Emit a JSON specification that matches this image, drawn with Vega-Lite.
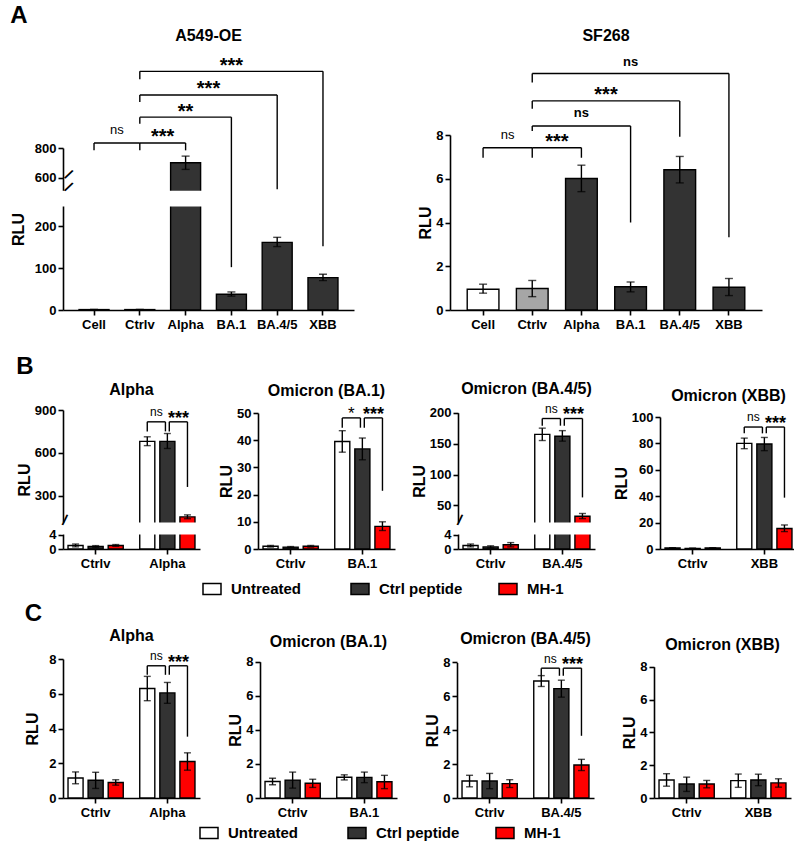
{
"$schema": "https://vega.github.io/schema/vega-lite/v6.json",
"background": "white",
"padding": {"left": 10, "right": 2, "top": 3, "bottom": 2},
"config": {
 "font": "Liberation Sans",
 "view": {"stroke": null},
 "axis": {"labelFontSize": 13, "labelFontWeight": "bold", "labelColor": "black", "titleFontSize": 16, "titleFontWeight": "bold", "titleColor": "black", "domainColor": "black", "domainWidth": 1.6, "tickColor": "black", "tickWidth": 1.6, "tickSize": 5, "grid": false, "labelPadding": 2, "labelOverlap": false, "labelFlush": false},
 "axisX": {"labelAngle": 0, "labelPadding": 3},
 "axisY": {"titlePadding": 2, "tickCount": 12},
 "title": {"fontSize": 16, "fontWeight": "bold", "color": "black", "offset": 6, "frame": "group"},
 "bar": {"stroke": "black", "strokeWidth": 1.4},
 "rule": {"color": "black", "strokeWidth": 1.4},
 "tick": {"color": "black", "thickness": 1.4},
 "text": {"color": "black"}
},
"datasets": {
 "bA": [
  {"p":"A1","c":"Cell","m":1,"lo":0.5,"hi":1.5},
  {"p":"A1","c":"Ctrlv","m":1,"lo":0.5,"hi":1.5},
  {"p":"A1","c":"Alpha","m":700,"lo":655,"hi":745},
  {"p":"A1","c":"BA.1","m":37.5,"lo":33,"hi":43},
  {"p":"A1","c":"BA.4/5","m":161,"lo":151,"hi":173},
  {"p":"A1","c":"XBB","m":77,"lo":70,"hi":85},
  {"p":"A2","c":"Cell","m":0.95,"lo":0.77,"hi":1.18},
  {"p":"A2","c":"Ctrlv","m":0.98,"lo":0.61,"hi":1.35},
  {"p":"A2","c":"Alpha","m":6.01,"lo":5.41,"hi":6.62},
  {"p":"A2","c":"BA.1","m":1.06,"lo":0.83,"hi":1.28},
  {"p":"A2","c":"BA.4/5","m":6.41,"lo":5.81,"hi":7.02},
  {"p":"A2","c":"XBB","m":1.04,"lo":0.66,"hi":1.44}
 ],
 "hA": [
  {"p":"A1","a":"Cell","b":"Ctrlv","y":834},
  {"p":"A1","a":"Ctrlv","b":"Alpha","y":834},
  {"p":"A1","a":"Ctrlv","b":"BA.1","y":1009},
  {"p":"A1","a":"Ctrlv","b":"BA.4/5","y":1159},
  {"p":"A1","a":"Ctrlv","b":"XBB","y":1319},
  {"p":"A2","a":"Cell","b":"Ctrlv","y":7.42},
  {"p":"A2","a":"Ctrlv","b":"Alpha","y":7.42},
  {"p":"A2","a":"Ctrlv","b":"BA.1","y":8.41},
  {"p":"A2","a":"Ctrlv","b":"BA.4/5","y":9.56},
  {"p":"A2","a":"Ctrlv","b":"XBB","y":10.81}
 ],
 "vA": [
  {"p":"A1","x":"Cell","y":784,"y2":834},
  {"p":"A1","x":"Ctrlv","y":784,"y2":834},
  {"p":"A1","x":"Alpha","y":784,"y2":834},
  {"p":"A1","x":"Ctrlv","y":965,"y2":1009},
  {"p":"A1","x":"BA.1","y":102,"y2":1009},
  {"p":"A1","x":"Ctrlv","y":1112,"y2":1159},
  {"p":"A1","x":"BA.4/5","y":520,"y2":1159},
  {"p":"A1","x":"Ctrlv","y":1265,"y2":1319},
  {"p":"A1","x":"XBB","y":152,"y2":1319},
  {"p":"A2","x":"Cell","y":6.96,"y2":7.42},
  {"p":"A2","x":"Ctrlv","y":6.96,"y2":7.42},
  {"p":"A2","x":"Alpha","y":6.96,"y2":7.42},
  {"p":"A2","x":"Ctrlv","y":8.18,"y2":8.41},
  {"p":"A2","x":"BA.1","y":4.0,"y2":8.41},
  {"p":"A2","x":"Ctrlv","y":9.2,"y2":9.56},
  {"p":"A2","x":"BA.4/5","y":7.92,"y2":9.56},
  {"p":"A2","x":"Ctrlv","y":10.4,"y2":10.81},
  {"p":"A2","x":"XBB","y":3.33,"y2":10.81}
 ],
 "tA": [
  {"p":"A1","x":"Cell","h":true,"y":892,"s":"ns"},
  {"p":"A1","x":"Ctrlv","h":true,"y":835,"s":"***"},
  {"p":"A1","x":"Alpha","h":false,"y":1000,"s":"**"},
  {"p":"A1","x":"Alpha","h":true,"y":1158,"s":"***"},
  {"p":"A1","x":"BA.1","h":false,"y":1315,"s":"***"},
  {"p":"A2","x":"Cell","h":true,"y":7.82,"s":"ns"},
  {"p":"A2","x":"Ctrlv","h":true,"y":7.42,"s":"***"},
  {"p":"A2","x":"Alpha","h":false,"y":8.82,"s":"ns"},
  {"p":"A2","x":"Alpha","h":true,"y":9.56,"s":"***"},
  {"p":"A2","x":"BA.1","h":false,"y":11.16,"s":"ns"}
 ],
 "bB": [
  {"p":"B1","g":"Ctrlv","t":"Untreated","m":1.0,"lo":0.6,"hi":1.4},
  {"p":"B1","g":"Ctrlv","t":"Ctrl peptide","m":0.7,"lo":0.45,"hi":0.95},
  {"p":"B1","g":"Ctrlv","t":"MH-1","m":1.0,"lo":0.75,"hi":1.25},
  {"p":"B1","g":"Alpha","t":"Untreated","m":680,"lo":650,"hi":712},
  {"p":"B1","g":"Alpha","t":"Ctrl peptide","m":680,"lo":630,"hi":735},
  {"p":"B1","g":"Alpha","t":"MH-1","m":150,"lo":137,"hi":164},
  {"p":"B2","g":"Ctrlv","t":"Untreated","m":1.0,"lo":0.7,"hi":1.3},
  {"p":"B2","g":"Ctrlv","t":"Ctrl peptide","m":0.7,"lo":0.5,"hi":0.9},
  {"p":"B2","g":"Ctrlv","t":"MH-1","m":1.0,"lo":0.7,"hi":1.3},
  {"p":"B2","g":"BA.1","t":"Untreated","m":39.5,"lo":35.6,"hi":43.5},
  {"p":"B2","g":"BA.1","t":"Ctrl peptide","m":36.8,"lo":32.8,"hi":40.8},
  {"p":"B2","g":"BA.1","t":"MH-1","m":8.3,"lo":6.8,"hi":10.0},
  {"p":"B3","g":"Ctrlv","t":"Untreated","m":1.0,"lo":0.6,"hi":1.4},
  {"p":"B3","g":"Ctrlv","t":"Ctrl peptide","m":0.6,"lo":0.3,"hi":0.9},
  {"p":"B3","g":"Ctrlv","t":"MH-1","m":1.2,"lo":0.6,"hi":1.8},
  {"p":"B3","g":"BA.4/5","t":"Untreated","m":165,"lo":155,"hi":175},
  {"p":"B3","g":"BA.4/5","t":"Ctrl peptide","m":162,"lo":154,"hi":171},
  {"p":"B3","g":"BA.4/5","t":"MH-1","m":32.5,"lo":28.7,"hi":37},
  {"p":"B4","g":"Ctrlv","t":"Untreated","m":0.8,"lo":0.6,"hi":1.0},
  {"p":"B4","g":"Ctrlv","t":"Ctrl peptide","m":0.5,"lo":0.3,"hi":0.7},
  {"p":"B4","g":"Ctrlv","t":"MH-1","m":0.8,"lo":0.6,"hi":1.0},
  {"p":"B4","g":"XBB","t":"Untreated","m":80,"lo":76,"hi":84},
  {"p":"B4","g":"XBB","t":"Ctrl peptide","m":79.5,"lo":74.5,"hi":84.5},
  {"p":"B4","g":"XBB","t":"MH-1","m":15.5,"lo":13.2,"hi":18.2}
 ],
 "bC": [
  {"p":"C1","g":"Ctrlv","t":"Untreated","m":1.15,"lo":0.82,"hi":1.5},
  {"p":"C1","g":"Ctrlv","t":"Ctrl peptide","m":1.02,"lo":0.55,"hi":1.48},
  {"p":"C1","g":"Ctrlv","t":"MH-1","m":0.89,"lo":0.74,"hi":1.05},
  {"p":"C1","g":"Alpha","t":"Untreated","m":6.3,"lo":5.6,"hi":7.0},
  {"p":"C1","g":"Alpha","t":"Ctrl peptide","m":6.05,"lo":5.45,"hi":6.65},
  {"p":"C1","g":"Alpha","t":"MH-1","m":2.1,"lo":1.6,"hi":2.6},
  {"p":"C2","g":"Ctrlv","t":"Untreated","m":0.97,"lo":0.78,"hi":1.16},
  {"p":"C2","g":"Ctrlv","t":"Ctrl peptide","m":1.05,"lo":0.58,"hi":1.52},
  {"p":"C2","g":"Ctrlv","t":"MH-1","m":0.87,"lo":0.62,"hi":1.1},
  {"p":"C2","g":"BA.1","t":"Untreated","m":1.22,"lo":1.06,"hi":1.36},
  {"p":"C2","g":"BA.1","t":"Ctrl peptide","m":1.21,"lo":0.9,"hi":1.52},
  {"p":"C2","g":"BA.1","t":"MH-1","m":0.95,"lo":0.55,"hi":1.33},
  {"p":"C3","g":"Ctrlv","t":"Untreated","m":1.0,"lo":0.66,"hi":1.34},
  {"p":"C3","g":"Ctrlv","t":"Ctrl peptide","m":1.0,"lo":0.55,"hi":1.45},
  {"p":"C3","g":"Ctrlv","t":"MH-1","m":0.85,"lo":0.62,"hi":1.08},
  {"p":"C3","g":"BA.4/5","t":"Untreated","m":6.9,"lo":6.58,"hi":7.22},
  {"p":"C3","g":"BA.4/5","t":"Ctrl peptide","m":6.45,"lo":5.95,"hi":6.95},
  {"p":"C3","g":"BA.4/5","t":"MH-1","m":1.95,"lo":1.62,"hi":2.28},
  {"p":"C4","g":"Ctrlv","t":"Untreated","m":1.1,"lo":0.72,"hi":1.48},
  {"p":"C4","g":"Ctrlv","t":"Ctrl peptide","m":0.85,"lo":0.4,"hi":1.27},
  {"p":"C4","g":"Ctrlv","t":"MH-1","m":0.85,"lo":0.62,"hi":1.07},
  {"p":"C4","g":"XBB","t":"Untreated","m":1.06,"lo":0.65,"hi":1.46},
  {"p":"C4","g":"XBB","t":"Ctrl peptide","m":1.1,"lo":0.75,"hi":1.45},
  {"p":"C4","g":"XBB","t":"MH-1","m":0.92,"lo":0.66,"hi":1.17}
 ],
 "kBC": [
  {"p":"B1","g":"Alpha","ly":817,"yU":750,"yC":750,"yM":360,"l1":"ns","b1":856,"l2":"***","b2":805},
  {"p":"B2","g":"BA.1","ly":48.2,"yU":44.6,"yC":44.6,"yM":21.4,"l1":"*","b1":47.9,"l2":"***","b2":47.6},
  {"p":"B3","g":"BA.4/5","ly":190.6,"yU":179,"yC":179,"yM":63,"l1":"ns","b1":200,"l2":"***","b2":188.4},
  {"p":"B4","g":"XBB","ly":92.4,"yU":87.6,"yC":87.6,"yM":38.9,"l1":"ns","b1":96.7,"l2":"***","b2":91.1},
  {"p":"C1","g":"Alpha","ly":7.61,"yU":7.09,"yC":7.09,"yM":3.53,"l1":"ns","b1":7.93,"l2":"***","b2":7.51},
  {"p":"C3","g":"BA.4/5","ly":7.66,"yU":7.21,"yC":7.21,"yM":3.67,"l1":"ns","b1":7.97,"l2":"***","b2":7.54}
 ],
 "leg": [{"t":"Untreated"},{"t":"Ctrl peptide"},{"t":"MH-1"}]
},
"spacing": 23,
"vconcat": [
 {"title": {"text": "A", "anchor": "start", "fontSize": 24, "offset": 0, "frame": "bounds"},
  "spacing": 61,
  "hconcat": [
   {"title": {"text": "A549-OE", "offset": 12},
    "width": 291, "height": 175,
    "data": {"name": "bA"}, "transform": [{"filter": "datum.p=='A1'"}],
    "layer": [
     {"mark": "bar", "encoding": {
       "x": {"field": "c", "type": "nominal", "title": null, "scale": {"domain": ["Cell","Ctrlv","Alpha","BA.1","BA.4/5","XBB"], "paddingInner": 0.345, "paddingOuter": 0.35}},
       "y": {"field": "m", "type": "quantitative", "scale": {"domain": [0,250,500,800], "range": [175,70,57.3,13], "zero": false, "nice": false}, "axis": {"title": "RLU", "values": [0,100,200,600,800], "format": "d", "tickCount": 12, "titlePadding": 8}},
       "fill": {"field": "c", "type": "nominal", "scale": {"domain": ["Cell","Ctrlv","Alpha","BA.1","BA.4/5","XBB"], "range": ["white","#a6a6a6","#333333","#333333","#333333","#333333"]}, "legend": null}}},
     {"mark": "rule", "encoding": {"x": {"field": "c", "type": "nominal", "title": null}, "y": {"field": "lo", "type": "quantitative"}, "y2": {"field": "hi"}}},
     {"mark": {"type": "tick", "size": 8}, "encoding": {"x": {"field": "c", "type": "nominal", "title": null}, "y": {"field": "lo", "type": "quantitative"}}},
     {"mark": {"type": "tick", "size": 8}, "encoding": {"x": {"field": "c", "type": "nominal", "title": null}, "y": {"field": "hi", "type": "quantitative"}}},
     {"data": {"values": [{}]}, "mark": {"type": "rect", "fill": "white", "stroke": "white", "strokeWidth": 3}, "encoding": {"y": {"datum": 250, "type": "quantitative"}, "y2": {"datum": 500}}},
     {"data": {"values": [{"v": 250}, {"v": 500}]}, "mark": {"type": "text", "text": "/", "fontSize": 15, "fontWeight": "bold", "angle": 35, "dx": -31, "baseline": "middle"}, "encoding": {"x": {"datum": "Cell", "type": "nominal", "title": null}, "y": {"field": "v", "type": "quantitative"}}},
     {"data": {"name": "hA"}, "transform": [{"filter": "datum.p=='A1'"}], "mark": "rule", "encoding": {"x": {"field": "a", "type": "nominal", "title": null, "bandPosition": 0.5}, "x2": {"field": "b", "bandPosition": 0.5}, "y": {"field": "y", "type": "quantitative"}}},
     {"data": {"name": "vA"}, "transform": [{"filter": "datum.p=='A1'"}], "mark": "rule", "encoding": {"x": {"field": "x", "type": "nominal", "title": null}, "y": {"field": "y", "type": "quantitative"}, "y2": {"field": "y2"}}},
     {"data": {"name": "tA"}, "transform": [{"filter": "datum.p=='A1'"}], "layer": [
       {"transform": [{"filter": "datum.h && datum.x=='Cell'"}], "mark": {"type": "text", "fontSize": 13, "baseline": "alphabetic"}, "encoding": {"x": {"field": "x", "type": "nominal", "title": null, "bandPosition": 1.263}, "y": {"field": "y", "type": "quantitative"}, "text": {"field": "s"}}},
       {"transform": [{"filter": "datum.h && datum.x!='Cell'"}], "mark": {"type": "text", "fontWeight": "bold", "baseline": "alphabetic"}, "encoding": {"x": {"field": "x", "type": "nominal", "title": null, "bandPosition": 1.263}, "y": {"field": "y", "type": "quantitative"}, "text": {"field": "s"}, "size": {"condition": {"test": "indexof(datum.s,'*')>=0", "value": 20}, "value": 13}}},
       {"transform": [{"filter": "!datum.h"}], "mark": {"type": "text", "fontWeight": "bold", "baseline": "alphabetic"}, "encoding": {"x": {"field": "x", "type": "nominal", "title": null, "bandPosition": 0.5}, "y": {"field": "y", "type": "quantitative"}, "text": {"field": "s"}, "size": {"condition": {"test": "indexof(datum.s,'*')>=0", "value": 20}, "value": 13}}}
     ]}
    ]},
   {"title": {"text": "SF268", "offset": 12},
    "width": 312, "height": 175,
    "data": {"name": "bA"}, "transform": [{"filter": "datum.p=='A2'"}],
    "layer": [
     {"mark": "bar", "encoding": {
       "x": {"field": "c", "type": "nominal", "title": null, "scale": {"domain": ["Cell","Ctrlv","Alpha","BA.1","BA.4/5","XBB"], "paddingInner": 0.355, "paddingOuter": 0.35}},
       "y": {"field": "m", "type": "quantitative", "scale": {"domain": [0,8], "zero": false, "nice": false}, "axis": {"title": "RLU", "values": [0,2,4,6,8], "format": "d", "tickCount": 12}},
       "fill": {"field": "c", "type": "nominal", "scale": {"domain": ["Cell","Ctrlv","Alpha","BA.1","BA.4/5","XBB"], "range": ["white","#a6a6a6","#333333","#333333","#333333","#333333"]}, "legend": null}}},
     {"mark": "rule", "encoding": {"x": {"field": "c", "type": "nominal", "title": null}, "y": {"field": "lo", "type": "quantitative"}, "y2": {"field": "hi"}}},
     {"mark": {"type": "tick", "size": 8}, "encoding": {"x": {"field": "c", "type": "nominal", "title": null}, "y": {"field": "lo", "type": "quantitative"}}},
     {"mark": {"type": "tick", "size": 8}, "encoding": {"x": {"field": "c", "type": "nominal", "title": null}, "y": {"field": "hi", "type": "quantitative"}}},
     {"data": {"name": "hA"}, "transform": [{"filter": "datum.p=='A2'"}], "mark": "rule", "encoding": {"x": {"field": "a", "type": "nominal", "title": null, "bandPosition": 0.5}, "x2": {"field": "b", "bandPosition": 0.5}, "y": {"field": "y", "type": "quantitative"}}},
     {"data": {"name": "vA"}, "transform": [{"filter": "datum.p=='A2'"}], "mark": "rule", "encoding": {"x": {"field": "x", "type": "nominal", "title": null}, "y": {"field": "y", "type": "quantitative"}, "y2": {"field": "y2"}}},
     {"data": {"name": "tA"}, "transform": [{"filter": "datum.p=='A2'"}], "layer": [
       {"transform": [{"filter": "datum.h && datum.x=='Cell'"}], "mark": {"type": "text", "fontSize": 13, "baseline": "alphabetic"}, "encoding": {"x": {"field": "x", "type": "nominal", "title": null, "bandPosition": 1.275}, "y": {"field": "y", "type": "quantitative"}, "text": {"field": "s"}}},
       {"transform": [{"filter": "datum.h && datum.x!='Cell'"}], "mark": {"type": "text", "fontWeight": "bold", "baseline": "alphabetic"}, "encoding": {"x": {"field": "x", "type": "nominal", "title": null, "bandPosition": 1.275}, "y": {"field": "y", "type": "quantitative"}, "text": {"field": "s"}, "size": {"condition": {"test": "indexof(datum.s,'*')>=0", "value": 20}, "value": 13}}},
       {"transform": [{"filter": "!datum.h"}], "mark": {"type": "text", "fontWeight": "bold", "baseline": "alphabetic"}, "encoding": {"x": {"field": "x", "type": "nominal", "title": null, "bandPosition": 0.5}, "y": {"field": "y", "type": "quantitative"}, "text": {"field": "s"}, "size": {"condition": {"test": "indexof(datum.s,'*')>=0", "value": 20}, "value": 13}}}
     ]}
    ]}
  ]},
 {"spacing": 4, "vconcat": [
  {"spacing": 10, "center": true, "vconcat": [
   {"title": {"text": "B", "anchor": "start", "fontSize": 24, "offset": 2, "frame": "bounds"},
    "spacing": 16,
    "hconcat": [
     {"title": "Alpha", "width": 137, "height": 139,
      "data": {"name": "bB"}, "transform": [{"filter": "datum.p=='B1'"}],
      "layer": [
       {"mark": "bar", "encoding": {
         "x": {"field": "g", "type": "nominal", "title": null, "scale": {"domain": ["Ctrlv","Alpha"], "paddingInner": 0.23, "paddingOuter": 0.07}},
         "xOffset": {"field": "t", "type": "nominal", "scale": {"domain": ["Untreated","Ctrl peptide","MH-1"], "paddingInner": 0.25, "paddingOuter": 0}},
         "y": {"field": "m", "type": "quantitative", "scale": {"domain": [0,4.5,100,900], "range": [139,123,114,0], "zero": false, "nice": false}, "axis": {"title": "RLU", "values": [0,4,300,600,900], "format": "d", "tickCount": 12}},
         "color": {"field": "t", "type": "nominal", "scale": {"domain": ["Untreated","Ctrl peptide","MH-1"], "range": ["white","#333333","#ff0000"]}, "legend": null}}},
       {"mark": "rule", "encoding": {"x": {"field": "g", "type": "nominal", "title": null}, "xOffset": {"field": "t", "type": "nominal"}, "y": {"field": "lo", "type": "quantitative"}, "y2": {"field": "hi"}}},
       {"mark": {"type": "tick", "size": 7}, "encoding": {"x": {"field": "g", "type": "nominal", "title": null}, "xOffset": {"field": "t", "type": "nominal"}, "y": {"field": "lo", "type": "quantitative"}}},
       {"mark": {"type": "tick", "size": 7}, "encoding": {"x": {"field": "g", "type": "nominal", "title": null}, "xOffset": {"field": "t", "type": "nominal"}, "y": {"field": "hi", "type": "quantitative"}}},
       {"data": {"values": [{}]}, "mark": {"type": "rect", "fill": "white", "stroke": "white", "strokeWidth": 3}, "encoding": {"y": {"datum": 4.5, "type": "quantitative"}, "y2": {"datum": 100}}},
       {"data": {"values": [{}]}, "mark": {"type": "text", "text": "/", "fontSize": 15, "fontWeight": "bold", "angle": 15, "dx": -32, "baseline": "middle"}, "encoding": {"x": {"datum": "Ctrlv", "type": "nominal", "title": null}, "y": {"datum": 52, "type": "quantitative"}}},
       {"data": {"name": "kBC"}, "transform": [{"filter": "datum.p=='B1'"}], "layer": [
         {"mark": "rule", "encoding": {"x": {"field": "g", "type": "nominal", "title": null, "bandPosition": 0.136}, "x2": {"field": "g", "bandPosition": 0.465}, "y": {"field": "ly", "type": "quantitative"}}},
         {"mark": "rule", "encoding": {"x": {"field": "g", "type": "nominal", "title": null, "bandPosition": 0.535}, "x2": {"field": "g", "bandPosition": 0.864}, "y": {"field": "ly", "type": "quantitative"}}},
         {"mark": "rule", "encoding": {"x": {"field": "g", "type": "nominal", "title": null, "bandPosition": 0.136}, "y": {"field": "yU", "type": "quantitative"}, "y2": {"field": "ly"}}},
         {"mark": "rule", "encoding": {"x": {"field": "g", "type": "nominal", "title": null, "bandPosition": 0.465}, "y": {"field": "yC", "type": "quantitative"}, "y2": {"field": "ly"}}},
         {"mark": "rule", "encoding": {"x": {"field": "g", "type": "nominal", "title": null, "bandPosition": 0.535}, "y": {"field": "yC", "type": "quantitative"}, "y2": {"field": "ly"}}},
         {"mark": "rule", "encoding": {"x": {"field": "g", "type": "nominal", "title": null, "bandPosition": 0.864}, "y": {"field": "yM", "type": "quantitative"}, "y2": {"field": "ly"}}},
         {"mark": {"type": "text", "baseline": "alphabetic"}, "encoding": {"x": {"field": "g", "type": "nominal", "title": null, "bandPosition": 0.30}, "y": {"field": "b1", "type": "quantitative"}, "text": {"field": "l1"}, "size": {"condition": {"test": "datum.l1=='*'", "value": 17}, "value": 12}}},
         {"mark": {"type": "text", "fontSize": 18, "fontWeight": "bold", "baseline": "alphabetic"}, "encoding": {"x": {"field": "g", "type": "nominal", "title": null, "bandPosition": 0.70}, "y": {"field": "b2", "type": "quantitative"}, "text": {"field": "l2"}}}
       ]}
      ]},
     {"title": "Omicron (BA.1)", "width": 137, "height": 139,
      "data": {"name": "bB"}, "transform": [{"filter": "datum.p=='B2'"}],
      "layer": [
       {"mark": "bar", "encoding": {
         "x": {"field": "g", "type": "nominal", "title": null, "scale": {"domain": ["Ctrlv","BA.1"], "paddingInner": 0.23, "paddingOuter": 0.07}},
         "xOffset": {"field": "t", "type": "nominal", "scale": {"domain": ["Untreated","Ctrl peptide","MH-1"], "paddingInner": 0.25, "paddingOuter": 0}},
         "y": {"field": "m", "type": "quantitative", "scale": {"domain": [0,50], "range": [139,3], "zero": false, "nice": false}, "axis": {"title": "RLU", "values": [0,10,20,30,40,50], "format": "d", "tickCount": 12}},
         "color": {"field": "t", "type": "nominal", "scale": {"domain": ["Untreated","Ctrl peptide","MH-1"], "range": ["white","#333333","#ff0000"]}, "legend": null}}},
       {"mark": "rule", "encoding": {"x": {"field": "g", "type": "nominal", "title": null}, "xOffset": {"field": "t", "type": "nominal"}, "y": {"field": "lo", "type": "quantitative"}, "y2": {"field": "hi"}}},
       {"mark": {"type": "tick", "size": 7}, "encoding": {"x": {"field": "g", "type": "nominal", "title": null}, "xOffset": {"field": "t", "type": "nominal"}, "y": {"field": "lo", "type": "quantitative"}}},
       {"mark": {"type": "tick", "size": 7}, "encoding": {"x": {"field": "g", "type": "nominal", "title": null}, "xOffset": {"field": "t", "type": "nominal"}, "y": {"field": "hi", "type": "quantitative"}}},
       {"data": {"name": "kBC"}, "transform": [{"filter": "datum.p=='B2'"}], "layer": [
         {"mark": "rule", "encoding": {"x": {"field": "g", "type": "nominal", "title": null, "bandPosition": 0.136}, "x2": {"field": "g", "bandPosition": 0.465}, "y": {"field": "ly", "type": "quantitative"}}},
         {"mark": "rule", "encoding": {"x": {"field": "g", "type": "nominal", "title": null, "bandPosition": 0.535}, "x2": {"field": "g", "bandPosition": 0.864}, "y": {"field": "ly", "type": "quantitative"}}},
         {"mark": "rule", "encoding": {"x": {"field": "g", "type": "nominal", "title": null, "bandPosition": 0.136}, "y": {"field": "yU", "type": "quantitative"}, "y2": {"field": "ly"}}},
         {"mark": "rule", "encoding": {"x": {"field": "g", "type": "nominal", "title": null, "bandPosition": 0.465}, "y": {"field": "yC", "type": "quantitative"}, "y2": {"field": "ly"}}},
         {"mark": "rule", "encoding": {"x": {"field": "g", "type": "nominal", "title": null, "bandPosition": 0.535}, "y": {"field": "yC", "type": "quantitative"}, "y2": {"field": "ly"}}},
         {"mark": "rule", "encoding": {"x": {"field": "g", "type": "nominal", "title": null, "bandPosition": 0.864}, "y": {"field": "yM", "type": "quantitative"}, "y2": {"field": "ly"}}},
         {"mark": {"type": "text", "baseline": "alphabetic"}, "encoding": {"x": {"field": "g", "type": "nominal", "title": null, "bandPosition": 0.30}, "y": {"field": "b1", "type": "quantitative"}, "text": {"field": "l1"}, "size": {"condition": {"test": "datum.l1=='*'", "value": 17}, "value": 12}}},
         {"mark": {"type": "text", "fontSize": 18, "fontWeight": "bold", "baseline": "alphabetic"}, "encoding": {"x": {"field": "g", "type": "nominal", "title": null, "bandPosition": 0.70}, "y": {"field": "b2", "type": "quantitative"}, "text": {"field": "l2"}}}
       ]}
      ]},
     {"title": "Omicron (BA.4/5)", "width": 137, "height": 139,
      "data": {"name": "bB"}, "transform": [{"filter": "datum.p=='B3'"}],
      "layer": [
       {"mark": "bar", "encoding": {
         "x": {"field": "g", "type": "nominal", "title": null, "scale": {"domain": ["Ctrlv","BA.4/5"], "paddingInner": 0.23, "paddingOuter": 0.07}},
         "xOffset": {"field": "t", "type": "nominal", "scale": {"domain": ["Untreated","Ctrl peptide","MH-1"], "paddingInner": 0.25, "paddingOuter": 0}},
         "y": {"field": "m", "type": "quantitative", "scale": {"domain": [0,4.5,20,200], "range": [139,123,114,2.7], "zero": false, "nice": false}, "axis": {"title": "RLU", "values": [0,4,50,100,150,200], "format": "d", "tickCount": 12}},
         "color": {"field": "t", "type": "nominal", "scale": {"domain": ["Untreated","Ctrl peptide","MH-1"], "range": ["white","#333333","#ff0000"]}, "legend": null}}},
       {"mark": "rule", "encoding": {"x": {"field": "g", "type": "nominal", "title": null}, "xOffset": {"field": "t", "type": "nominal"}, "y": {"field": "lo", "type": "quantitative"}, "y2": {"field": "hi"}}},
       {"mark": {"type": "tick", "size": 7}, "encoding": {"x": {"field": "g", "type": "nominal", "title": null}, "xOffset": {"field": "t", "type": "nominal"}, "y": {"field": "lo", "type": "quantitative"}}},
       {"mark": {"type": "tick", "size": 7}, "encoding": {"x": {"field": "g", "type": "nominal", "title": null}, "xOffset": {"field": "t", "type": "nominal"}, "y": {"field": "hi", "type": "quantitative"}}},
       {"data": {"values": [{}]}, "mark": {"type": "rect", "fill": "white", "stroke": "white", "strokeWidth": 3}, "encoding": {"y": {"datum": 4.5, "type": "quantitative"}, "y2": {"datum": 20}}},
       {"data": {"values": [{}]}, "mark": {"type": "text", "text": "/", "fontSize": 15, "fontWeight": "bold", "angle": 15, "dx": -32, "baseline": "middle"}, "encoding": {"x": {"datum": "Ctrlv", "type": "nominal", "title": null}, "y": {"datum": 12.2, "type": "quantitative"}}},
       {"data": {"name": "kBC"}, "transform": [{"filter": "datum.p=='B3'"}], "layer": [
         {"mark": "rule", "encoding": {"x": {"field": "g", "type": "nominal", "title": null, "bandPosition": 0.136}, "x2": {"field": "g", "bandPosition": 0.465}, "y": {"field": "ly", "type": "quantitative"}}},
         {"mark": "rule", "encoding": {"x": {"field": "g", "type": "nominal", "title": null, "bandPosition": 0.535}, "x2": {"field": "g", "bandPosition": 0.864}, "y": {"field": "ly", "type": "quantitative"}}},
         {"mark": "rule", "encoding": {"x": {"field": "g", "type": "nominal", "title": null, "bandPosition": 0.136}, "y": {"field": "yU", "type": "quantitative"}, "y2": {"field": "ly"}}},
         {"mark": "rule", "encoding": {"x": {"field": "g", "type": "nominal", "title": null, "bandPosition": 0.465}, "y": {"field": "yC", "type": "quantitative"}, "y2": {"field": "ly"}}},
         {"mark": "rule", "encoding": {"x": {"field": "g", "type": "nominal", "title": null, "bandPosition": 0.535}, "y": {"field": "yC", "type": "quantitative"}, "y2": {"field": "ly"}}},
         {"mark": "rule", "encoding": {"x": {"field": "g", "type": "nominal", "title": null, "bandPosition": 0.864}, "y": {"field": "yM", "type": "quantitative"}, "y2": {"field": "ly"}}},
         {"mark": {"type": "text", "baseline": "alphabetic"}, "encoding": {"x": {"field": "g", "type": "nominal", "title": null, "bandPosition": 0.30}, "y": {"field": "b1", "type": "quantitative"}, "text": {"field": "l1"}, "size": {"condition": {"test": "datum.l1=='*'", "value": 17}, "value": 12}}},
         {"mark": {"type": "text", "fontSize": 18, "fontWeight": "bold", "baseline": "alphabetic"}, "encoding": {"x": {"field": "g", "type": "nominal", "title": null, "bandPosition": 0.70}, "y": {"field": "b2", "type": "quantitative"}, "text": {"field": "l2"}}}
       ]}
      ]},
     {"title": "Omicron (XBB)", "width": 137, "height": 139,
      "data": {"name": "bB"}, "transform": [{"filter": "datum.p=='B4'"}],
      "layer": [
       {"mark": "bar", "encoding": {
         "x": {"field": "g", "type": "nominal", "title": null, "scale": {"domain": ["Ctrlv","XBB"], "paddingInner": 0.23, "paddingOuter": 0.07}},
         "xOffset": {"field": "t", "type": "nominal", "scale": {"domain": ["Untreated","Ctrl peptide","MH-1"], "paddingInner": 0.25, "paddingOuter": 0}},
         "y": {"field": "m", "type": "quantitative", "scale": {"domain": [0,100], "range": [139,7], "zero": false, "nice": false}, "axis": {"title": "RLU", "values": [0,20,40,60,80,100], "format": "d", "tickCount": 12}},
         "color": {"field": "t", "type": "nominal", "scale": {"domain": ["Untreated","Ctrl peptide","MH-1"], "range": ["white","#333333","#ff0000"]}, "legend": null}}},
       {"mark": "rule", "encoding": {"x": {"field": "g", "type": "nominal", "title": null}, "xOffset": {"field": "t", "type": "nominal"}, "y": {"field": "lo", "type": "quantitative"}, "y2": {"field": "hi"}}},
       {"mark": {"type": "tick", "size": 7}, "encoding": {"x": {"field": "g", "type": "nominal", "title": null}, "xOffset": {"field": "t", "type": "nominal"}, "y": {"field": "lo", "type": "quantitative"}}},
       {"mark": {"type": "tick", "size": 7}, "encoding": {"x": {"field": "g", "type": "nominal", "title": null}, "xOffset": {"field": "t", "type": "nominal"}, "y": {"field": "hi", "type": "quantitative"}}},
       {"data": {"name": "kBC"}, "transform": [{"filter": "datum.p=='B4'"}], "layer": [
         {"mark": "rule", "encoding": {"x": {"field": "g", "type": "nominal", "title": null, "bandPosition": 0.136}, "x2": {"field": "g", "bandPosition": 0.465}, "y": {"field": "ly", "type": "quantitative"}}},
         {"mark": "rule", "encoding": {"x": {"field": "g", "type": "nominal", "title": null, "bandPosition": 0.535}, "x2": {"field": "g", "bandPosition": 0.864}, "y": {"field": "ly", "type": "quantitative"}}},
         {"mark": "rule", "encoding": {"x": {"field": "g", "type": "nominal", "title": null, "bandPosition": 0.136}, "y": {"field": "yU", "type": "quantitative"}, "y2": {"field": "ly"}}},
         {"mark": "rule", "encoding": {"x": {"field": "g", "type": "nominal", "title": null, "bandPosition": 0.465}, "y": {"field": "yC", "type": "quantitative"}, "y2": {"field": "ly"}}},
         {"mark": "rule", "encoding": {"x": {"field": "g", "type": "nominal", "title": null, "bandPosition": 0.535}, "y": {"field": "yC", "type": "quantitative"}, "y2": {"field": "ly"}}},
         {"mark": "rule", "encoding": {"x": {"field": "g", "type": "nominal", "title": null, "bandPosition": 0.864}, "y": {"field": "yM", "type": "quantitative"}, "y2": {"field": "ly"}}},
         {"mark": {"type": "text", "baseline": "alphabetic"}, "encoding": {"x": {"field": "g", "type": "nominal", "title": null, "bandPosition": 0.30}, "y": {"field": "b1", "type": "quantitative"}, "text": {"field": "l1"}, "size": {"condition": {"test": "datum.l1=='*'", "value": 17}, "value": 12}}},
         {"mark": {"type": "text", "fontSize": 18, "fontWeight": "bold", "baseline": "alphabetic"}, "encoding": {"x": {"field": "g", "type": "nominal", "title": null, "bandPosition": 0.70}, "y": {"field": "b2", "type": "quantitative"}, "text": {"field": "l2"}}}
       ]}
      ]}
    ]},
   {"width": 436, "height": 12,
    "data": {"name": "leg"},
    "layer": [
     {"mark": {"type": "point", "shape": "M-1,-0.6H1V0.6H-1Z", "size": 324, "filled": true, "opacity": 1, "stroke": "black", "strokeWidth": 1.5},
      "encoding": {"x": {"field": "t", "type": "nominal", "scale": {"type": "point", "domain": ["Untreated","Ctrl peptide","MH-1"], "padding": 0.473, "align": 0}, "axis": null},
                   "color": {"field": "t", "type": "nominal", "scale": {"domain": ["Untreated","Ctrl peptide","MH-1"], "range": ["white","#333333","#ff0000"]}, "legend": null}}},
     {"mark": {"type": "text", "align": "left", "dx": 19, "fontSize": 15, "fontWeight": "bold", "baseline": "middle"},
      "encoding": {"x": {"field": "t", "type": "nominal", "axis": null}, "text": {"field": "t"}}}
    ]}
  ]},
  {"spacing": 5, "center": true, "vconcat": [
   {"title": {"text": "C", "anchor": "start", "fontSize": 24, "offset": 2, "frame": "bounds"},
    "spacing": 27,
    "hconcat": [
     {"title": "Alpha", "width": 137, "height": 139,
      "data": {"name": "bC"}, "transform": [{"filter": "datum.p=='C1'"}],
      "layer": [
       {"mark": "bar", "encoding": {
         "x": {"field": "g", "type": "nominal", "title": null, "scale": {"domain": ["Ctrlv","Alpha"], "paddingInner": 0.23, "paddingOuter": 0.07}},
         "xOffset": {"field": "t", "type": "nominal", "scale": {"domain": ["Untreated","Ctrl peptide","MH-1"], "paddingInner": 0.25, "paddingOuter": 0}},
         "y": {"field": "m", "type": "quantitative", "scale": {"domain": [0,8], "range": [139,0], "zero": false, "nice": false}, "axis": {"title": "RLU", "values": [0,2,4,6,8], "format": "d", "tickCount": 12, "titlePadding": 8}},
         "color": {"field": "t", "type": "nominal", "scale": {"domain": ["Untreated","Ctrl peptide","MH-1"], "range": ["white","#333333","#ff0000"]}, "legend": null}}},
       {"mark": "rule", "encoding": {"x": {"field": "g", "type": "nominal", "title": null}, "xOffset": {"field": "t", "type": "nominal"}, "y": {"field": "lo", "type": "quantitative"}, "y2": {"field": "hi"}}},
       {"mark": {"type": "tick", "size": 7}, "encoding": {"x": {"field": "g", "type": "nominal", "title": null}, "xOffset": {"field": "t", "type": "nominal"}, "y": {"field": "lo", "type": "quantitative"}}},
       {"mark": {"type": "tick", "size": 7}, "encoding": {"x": {"field": "g", "type": "nominal", "title": null}, "xOffset": {"field": "t", "type": "nominal"}, "y": {"field": "hi", "type": "quantitative"}}},
       {"data": {"name": "kBC"}, "transform": [{"filter": "datum.p=='C1'"}], "layer": [
         {"mark": "rule", "encoding": {"x": {"field": "g", "type": "nominal", "title": null, "bandPosition": 0.136}, "x2": {"field": "g", "bandPosition": 0.465}, "y": {"field": "ly", "type": "quantitative"}}},
         {"mark": "rule", "encoding": {"x": {"field": "g", "type": "nominal", "title": null, "bandPosition": 0.535}, "x2": {"field": "g", "bandPosition": 0.864}, "y": {"field": "ly", "type": "quantitative"}}},
         {"mark": "rule", "encoding": {"x": {"field": "g", "type": "nominal", "title": null, "bandPosition": 0.136}, "y": {"field": "yU", "type": "quantitative"}, "y2": {"field": "ly"}}},
         {"mark": "rule", "encoding": {"x": {"field": "g", "type": "nominal", "title": null, "bandPosition": 0.465}, "y": {"field": "yC", "type": "quantitative"}, "y2": {"field": "ly"}}},
         {"mark": "rule", "encoding": {"x": {"field": "g", "type": "nominal", "title": null, "bandPosition": 0.535}, "y": {"field": "yC", "type": "quantitative"}, "y2": {"field": "ly"}}},
         {"mark": "rule", "encoding": {"x": {"field": "g", "type": "nominal", "title": null, "bandPosition": 0.864}, "y": {"field": "yM", "type": "quantitative"}, "y2": {"field": "ly"}}},
         {"mark": {"type": "text", "baseline": "alphabetic"}, "encoding": {"x": {"field": "g", "type": "nominal", "title": null, "bandPosition": 0.30}, "y": {"field": "b1", "type": "quantitative"}, "text": {"field": "l1"}, "size": {"condition": {"test": "datum.l1=='*'", "value": 17}, "value": 12}}},
         {"mark": {"type": "text", "fontSize": 18, "fontWeight": "bold", "baseline": "alphabetic"}, "encoding": {"x": {"field": "g", "type": "nominal", "title": null, "bandPosition": 0.70}, "y": {"field": "b2", "type": "quantitative"}, "text": {"field": "l2"}}}
       ]}
      ]},
     {"title": "Omicron (BA.1)", "width": 137, "height": 139,
      "data": {"name": "bC"}, "transform": [{"filter": "datum.p=='C2'"}],
      "layer": [
       {"mark": "bar", "encoding": {
         "x": {"field": "g", "type": "nominal", "title": null, "scale": {"domain": ["Ctrlv","BA.1"], "paddingInner": 0.23, "paddingOuter": 0.07}},
         "xOffset": {"field": "t", "type": "nominal", "scale": {"domain": ["Untreated","Ctrl peptide","MH-1"], "paddingInner": 0.25, "paddingOuter": 0}},
         "y": {"field": "m", "type": "quantitative", "scale": {"domain": [0,8], "range": [139,2.7], "zero": false, "nice": false}, "axis": {"title": "RLU", "values": [0,2,4,6,8], "format": "d", "tickCount": 12}},
         "color": {"field": "t", "type": "nominal", "scale": {"domain": ["Untreated","Ctrl peptide","MH-1"], "range": ["white","#333333","#ff0000"]}, "legend": null}}},
       {"mark": "rule", "encoding": {"x": {"field": "g", "type": "nominal", "title": null}, "xOffset": {"field": "t", "type": "nominal"}, "y": {"field": "lo", "type": "quantitative"}, "y2": {"field": "hi"}}},
       {"mark": {"type": "tick", "size": 7}, "encoding": {"x": {"field": "g", "type": "nominal", "title": null}, "xOffset": {"field": "t", "type": "nominal"}, "y": {"field": "lo", "type": "quantitative"}}},
       {"mark": {"type": "tick", "size": 7}, "encoding": {"x": {"field": "g", "type": "nominal", "title": null}, "xOffset": {"field": "t", "type": "nominal"}, "y": {"field": "hi", "type": "quantitative"}}}
      ]},
     {"title": "Omicron (BA.4/5)", "width": 137, "height": 139,
      "data": {"name": "bC"}, "transform": [{"filter": "datum.p=='C3'"}],
      "layer": [
       {"mark": "bar", "encoding": {
         "x": {"field": "g", "type": "nominal", "title": null, "scale": {"domain": ["Ctrlv","BA.4/5"], "paddingInner": 0.23, "paddingOuter": 0.07}},
         "xOffset": {"field": "t", "type": "nominal", "scale": {"domain": ["Untreated","Ctrl peptide","MH-1"], "paddingInner": 0.25, "paddingOuter": 0}},
         "y": {"field": "m", "type": "quantitative", "scale": {"domain": [0,8], "range": [139,3.4], "zero": false, "nice": false}, "axis": {"title": "RLU", "values": [0,2,4,6,8], "format": "d", "tickCount": 12}},
         "color": {"field": "t", "type": "nominal", "scale": {"domain": ["Untreated","Ctrl peptide","MH-1"], "range": ["white","#333333","#ff0000"]}, "legend": null}}},
       {"mark": "rule", "encoding": {"x": {"field": "g", "type": "nominal", "title": null}, "xOffset": {"field": "t", "type": "nominal"}, "y": {"field": "lo", "type": "quantitative"}, "y2": {"field": "hi"}}},
       {"mark": {"type": "tick", "size": 7}, "encoding": {"x": {"field": "g", "type": "nominal", "title": null}, "xOffset": {"field": "t", "type": "nominal"}, "y": {"field": "lo", "type": "quantitative"}}},
       {"mark": {"type": "tick", "size": 7}, "encoding": {"x": {"field": "g", "type": "nominal", "title": null}, "xOffset": {"field": "t", "type": "nominal"}, "y": {"field": "hi", "type": "quantitative"}}},
       {"data": {"name": "kBC"}, "transform": [{"filter": "datum.p=='C3'"}], "layer": [
         {"mark": "rule", "encoding": {"x": {"field": "g", "type": "nominal", "title": null, "bandPosition": 0.136}, "x2": {"field": "g", "bandPosition": 0.465}, "y": {"field": "ly", "type": "quantitative"}}},
         {"mark": "rule", "encoding": {"x": {"field": "g", "type": "nominal", "title": null, "bandPosition": 0.535}, "x2": {"field": "g", "bandPosition": 0.864}, "y": {"field": "ly", "type": "quantitative"}}},
         {"mark": "rule", "encoding": {"x": {"field": "g", "type": "nominal", "title": null, "bandPosition": 0.136}, "y": {"field": "yU", "type": "quantitative"}, "y2": {"field": "ly"}}},
         {"mark": "rule", "encoding": {"x": {"field": "g", "type": "nominal", "title": null, "bandPosition": 0.465}, "y": {"field": "yC", "type": "quantitative"}, "y2": {"field": "ly"}}},
         {"mark": "rule", "encoding": {"x": {"field": "g", "type": "nominal", "title": null, "bandPosition": 0.535}, "y": {"field": "yC", "type": "quantitative"}, "y2": {"field": "ly"}}},
         {"mark": "rule", "encoding": {"x": {"field": "g", "type": "nominal", "title": null, "bandPosition": 0.864}, "y": {"field": "yM", "type": "quantitative"}, "y2": {"field": "ly"}}},
         {"mark": {"type": "text", "baseline": "alphabetic"}, "encoding": {"x": {"field": "g", "type": "nominal", "title": null, "bandPosition": 0.30}, "y": {"field": "b1", "type": "quantitative"}, "text": {"field": "l1"}, "size": {"condition": {"test": "datum.l1=='*'", "value": 17}, "value": 12}}},
         {"mark": {"type": "text", "fontSize": 18, "fontWeight": "bold", "baseline": "alphabetic"}, "encoding": {"x": {"field": "g", "type": "nominal", "title": null, "bandPosition": 0.70}, "y": {"field": "b2", "type": "quantitative"}, "text": {"field": "l2"}}}
       ]}
      ]},
     {"title": "Omicron (XBB)", "width": 137, "height": 139,
      "data": {"name": "bC"}, "transform": [{"filter": "datum.p=='C4'"}],
      "layer": [
       {"mark": "bar", "encoding": {
         "x": {"field": "g", "type": "nominal", "title": null, "scale": {"domain": ["Ctrlv","XBB"], "paddingInner": 0.23, "paddingOuter": 0.07}},
         "xOffset": {"field": "t", "type": "nominal", "scale": {"domain": ["Untreated","Ctrl peptide","MH-1"], "paddingInner": 0.25, "paddingOuter": 0}},
         "y": {"field": "m", "type": "quantitative", "scale": {"domain": [0,8], "range": [139,7.7], "zero": false, "nice": false}, "axis": {"title": "RLU", "values": [0,2,4,6,8], "format": "d", "tickCount": 12}},
         "color": {"field": "t", "type": "nominal", "scale": {"domain": ["Untreated","Ctrl peptide","MH-1"], "range": ["white","#333333","#ff0000"]}, "legend": null}}},
       {"mark": "rule", "encoding": {"x": {"field": "g", "type": "nominal", "title": null}, "xOffset": {"field": "t", "type": "nominal"}, "y": {"field": "lo", "type": "quantitative"}, "y2": {"field": "hi"}}},
       {"mark": {"type": "tick", "size": 7}, "encoding": {"x": {"field": "g", "type": "nominal", "title": null}, "xOffset": {"field": "t", "type": "nominal"}, "y": {"field": "lo", "type": "quantitative"}}},
       {"mark": {"type": "tick", "size": 7}, "encoding": {"x": {"field": "g", "type": "nominal", "title": null}, "xOffset": {"field": "t", "type": "nominal"}, "y": {"field": "hi", "type": "quantitative"}}}
      ]}
    ]},
   {"width": 436, "height": 12,
    "data": {"name": "leg"},
    "layer": [
     {"mark": {"type": "point", "shape": "M-1,-0.6H1V0.6H-1Z", "size": 324, "filled": true, "opacity": 1, "stroke": "black", "strokeWidth": 1.5},
      "encoding": {"x": {"field": "t", "type": "nominal", "scale": {"type": "point", "domain": ["Untreated","Ctrl peptide","MH-1"], "padding": 0.473, "align": 0}, "axis": null},
                   "color": {"field": "t", "type": "nominal", "scale": {"domain": ["Untreated","Ctrl peptide","MH-1"], "range": ["white","#333333","#ff0000"]}, "legend": null}}},
     {"mark": {"type": "text", "align": "left", "dx": 19, "fontSize": 15, "fontWeight": "bold", "baseline": "middle"},
      "encoding": {"x": {"field": "t", "type": "nominal", "axis": null}, "text": {"field": "t"}}}
    ]}
  ]}
 ]}
]
}
